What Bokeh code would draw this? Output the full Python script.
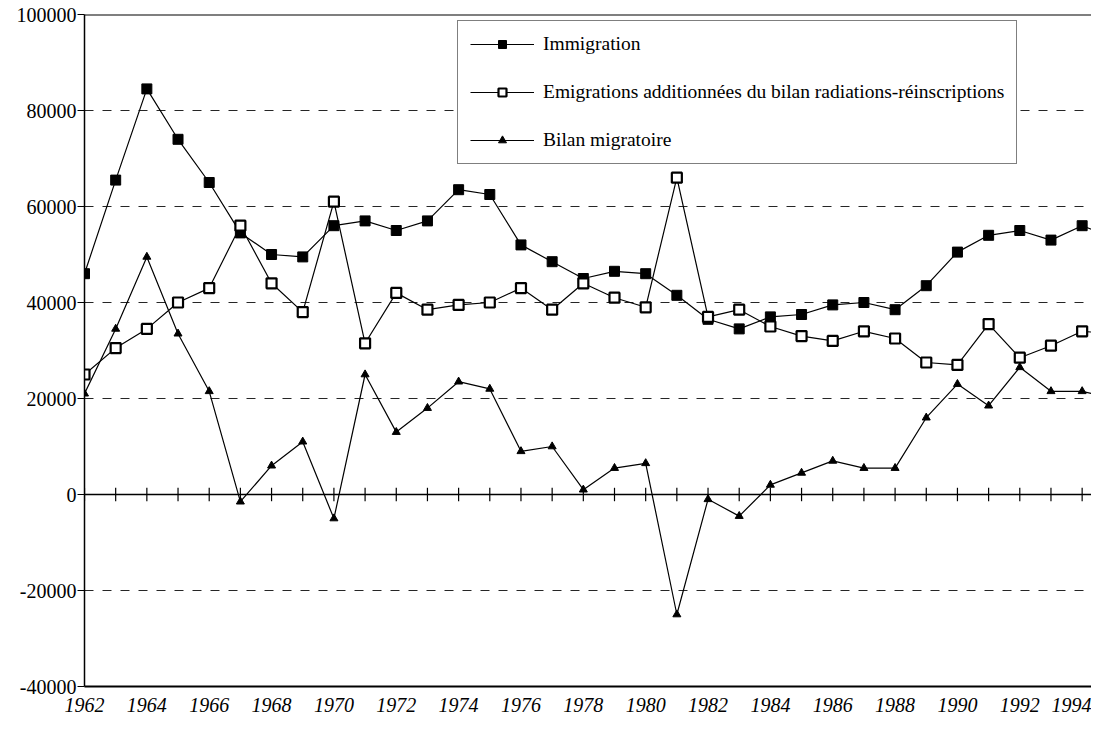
from bokeh.plotting import figure
from bokeh.models import (Span, FixedTicker, Legend, LegendItem, Range1d,
                          NumeralTickFormatter)
from bokeh.embed import file_html
from bokeh.resources import INLINE

years = list(range(1962, 1996))
immigration = [46000, 65500, 84500, 74000, 65000, 54500, 50000, 49500, 56000, 57000,
               55000, 57000, 63500, 62500, 52000, 48500, 45000, 46500, 46000, 41500,
               36500, 34500, 37000, 37500, 39500, 40000, 38500, 43500, 50500, 54000,
               55000, 53000, 56000, 53500]
emigration = [25000, 30500, 34500, 40000, 43000, 56000, 44000, 38000, 61000, 31500,
              42000, 38500, 39500, 40000, 43000, 38500, 44000, 41000, 39000, 66000,
              37000, 38500, 35000, 33000, 32000, 34000, 32500, 27500, 27000, 35500,
              28500, 31000, 34000, 33500]
bilan = [21000, 34500, 49500, 33500, 21500, -1500, 6000, 11000, -5000, 25000,
         13000, 18000, 23500, 22000, 9000, 10000, 1000, 5500, 6500, -25000,
         -1000, -4500, 2000, 4500, 7000, 5500, 5500, 16000, 23000, 18500,
         26500, 21500, 21500, 20000]
x_ticks = list(range(1962, 1995, 2))
y_ticks = [-40000, -20000, 0, 20000, 40000, 60000, 80000, 100000]
grid_ticks = [-20000, 20000, 40000, 60000, 80000]
labels = ["Immigration",
          "Emigrations additionnées du bilan radiations-réinscriptions",
          "Bilan migratoire"]

FONT = "Liberation Serif"

p = figure(width=1091, height=714, output_backend="svg", toolbar_location=None,
           x_range=Range1d(1962, 1994.3), y_range=Range1d(-40000, 100000),
           min_border_left=84, min_border_right=0, min_border_top=14,
           min_border_bottom=28)
p.outline_line_color = None
p.background_fill_color = "white"

# grid
p.xgrid.grid_line_color = None
p.ygrid.ticker = FixedTicker(ticks=grid_ticks)
p.ygrid.grid_line_color = "black"
p.ygrid.grid_line_dash = "9 9"
p.ygrid.grid_line_width = 1
p.ygrid.grid_line_alpha = 0.85

# axes
p.yaxis.ticker = FixedTicker(ticks=y_ticks)
p.yaxis.formatter = NumeralTickFormatter(format="0")
p.yaxis.axis_line_color = "black"
p.yaxis.axis_line_width = 1.5
p.yaxis.major_tick_out = 7
p.yaxis.major_tick_in = 0
p.yaxis.minor_tick_line_color = None
p.yaxis.major_label_text_font = FONT
p.yaxis.major_label_text_font_size = "20px"
p.yaxis.major_label_text_color = "black"
p.yaxis.major_label_standoff = 1

p.xaxis.ticker = FixedTicker(ticks=x_ticks)
p.xaxis.axis_line_color = "black"
p.xaxis.axis_line_width = 2
p.xaxis.major_tick_line_color = None
p.xaxis.minor_tick_line_color = None
p.xaxis.major_label_text_font = FONT
p.xaxis.major_label_text_font_style = "italic"
p.xaxis.major_label_text_font_size = "20px"
p.xaxis.major_label_text_color = "black"
p.xaxis.major_label_standoff = 5

# top frame line and zero line
p.add_layout(Span(location=100000, dimension="width", line_color="black", line_width=2))
p.add_layout(Span(location=0, dimension="width", line_color="black", line_width=1.5))
p.segment(x0=years, y0=[-1400] * len(years), x1=years, y1=[1400] * len(years),
          line_color="black", line_width=1.2)

# series
l1 = p.line(years, immigration, line_color="black", line_width=1.2)
m1 = p.scatter(years, immigration, marker="square", size=10, fill_color="black",
               line_color="black")
l2 = p.line(years, emigration, line_color="black", line_width=1.2)
m2 = p.scatter(years, emigration, marker="square", size=10, fill_color="white",
               line_color="black", line_width=2.2)
l3 = p.line(years, bilan, line_color="black", line_width=1.2)
m3 = p.scatter(years, bilan, marker="triangle", size=8, fill_color="black",
               line_color="black")

legend = Legend(items=[LegendItem(label=labels[0], renderers=[l1, m1]),
                       LegendItem(label=labels[1], renderers=[l2, m2]),
                       LegendItem(label=labels[2], renderers=[l3, m3])],
                location=(373, 522))
legend.label_text_font = FONT
legend.label_text_font_size = "19.5px"
legend.label_text_color = "black"
legend.glyph_width = 64
legend.glyph_height = 20
legend.label_height = 20
legend.spacing = 26
legend.padding = 12
legend.margin = 0
legend.label_standoff = 9
legend.border_line_color = "black"
legend.border_line_width = 1.5
legend.background_fill_alpha = 1
p.add_layout(legend, "center")

open("out.html", "w").write(file_html(p, INLINE))
